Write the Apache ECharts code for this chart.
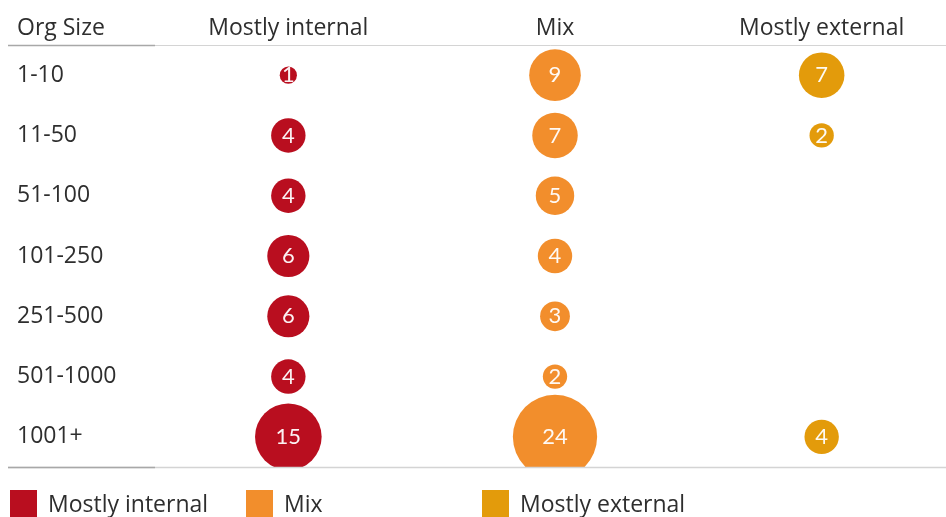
<!DOCTYPE html>
<html>
<head>
<meta charset="utf-8">
<script src="https://cdn.jsdelivr.net/npm/echarts@6/dist/echarts.min.js"></script>
<style>
  html, body { margin: 0; padding: 0; background: #fff; }
  #chart { width: 946px; height: 517px; }
</style>
</head>
<body>
<div id="chart"></div>
<script>
// Organisation size buckets (rows) and approach (columns)
const orgSizes = ['1-10', '11-50', '51-100', '101-250', '251-500', '501-1000', '1001+'];
const approaches = ['Mostly internal', 'Mix', 'Mostly external'];

// Respondent counts per org size; null = no respondents
const mostlyInternal = [1, 4, 4, 6, 6, 4, 15];
const mix = [9, 7, 5, 4, 3, 2, 24];
const mostlyExternal = [7, 2, null, null, null, null, 4];

const colors = {
  'Mostly internal': '#b90e1f',
  'Mix': '#f28e2c',
  'Mostly external': '#e39b0b'
};

const FONT = '"Open Sans", "Noto Sans", sans-serif';
const LABEL_FONT = 'Lato, "Open Sans", sans-serif';
const TEXT = '#2e2e2e';
const TEXT_SIZE = 23;

function toPoints(values, col) {
  const pts = [];
  values.forEach((v, row) => {
    if (v !== null) pts.push([col, row, v]);
  });
  return pts;
}

function bubbleSeries(name, values, col) {
  return {
    name: name,
    type: 'scatter',
    data: toPoints(values, col),
    // bubble area proportional to the count
    symbolSize: (val) => 17.2 * Math.sqrt(val[2]),
    itemStyle: { color: colors[name], opacity: 1 },
    label: {
      show: true,
      position: 'inside',
      formatter: (p) => String(p.value[2]),
      color: 'rgba(255,255,255,0.95)',
      fontFamily: LABEL_FONT,
      fontSize: 22
    },
    emphasis: { disabled: true },
    z: 2
  };
}

function legendFor(name, left) {
  return {
    data: [name],
    left: left,
    top: 490,
    padding: 0,
    icon: 'rect',
    itemWidth: 27,
    itemHeight: 30,
    selectedMode: false,
    textStyle: { color: TEXT, fontFamily: FONT, fontSize: TEXT_SIZE, padding: [4, 0, 0, 6] }
  };
}

const chart = echarts.init(document.getElementById('chart'), null, { renderer: 'canvas' });

chart.setOption({
  backgroundColor: '#ffffff',
  animation: false,
  grid: { left: 155, width: 800, top: 45, height: 422, outerBoundsMode: 'none', containLabel: false },
  xAxis: {
    type: 'category',
    position: 'top',
    data: approaches,
    axisLine: { show: true, lineStyle: { color: '#d4d4d4', width: 1 } },
    axisTick: { show: false },
    splitLine: { show: false },
    axisLabel: { color: TEXT, fontFamily: FONT, fontSize: TEXT_SIZE, margin: 5, verticalAlign: 'bottom' }
  },
  yAxis: {
    type: 'category',
    inverse: true,
    data: orgSizes,
    axisLine: { show: false },
    axisTick: { show: false },
    splitLine: { show: false },
    axisLabel: {
      color: TEXT, fontFamily: FONT, fontSize: TEXT_SIZE,
      align: 'left', margin: 138, padding: [4, 0, 0, 0]
    }
  },
  legend: [
    legendFor('Mostly internal', 10),
    legendFor('Mix', 246),
    legendFor('Mostly external', 482)
  ],
  series: [
    bubbleSeries('Mostly internal', mostlyInternal, 0),
    bubbleSeries('Mix', mix, 1),
    bubbleSeries('Mostly external', mostlyExternal, 2)
  ],
  graphic: [
    // column header for the row labels
    {
      type: 'text', x: 17, y: 40, z: 10,
      style: { text: 'Org Size', fill: TEXT, font: TEXT_SIZE + 'px ' + FONT, verticalAlign: 'bottom' }
    },
    // darker rule under the row-label column
    {
      type: 'line', z: 10,
      shape: { x1: 8, y1: 45.5, x2: 155, y2: 45.5 },
      style: { stroke: '#a8a8a8', lineWidth: 1.5 }
    },
    // table frame below the last row: bubbles are cut off here
    {
      type: 'rect', z: 50, silent: true,
      shape: { x: 0, y: 467, width: 946, height: 21 },
      style: { fill: '#ffffff' }
    },
    {
      type: 'line', z: 51,
      shape: { x1: 8, y1: 467.5, x2: 946, y2: 467.5 },
      style: { stroke: '#d4d4d4', lineWidth: 1.5 }
    },
    {
      type: 'line', z: 52,
      shape: { x1: 8, y1: 467.5, x2: 155, y2: 467.5 },
      style: { stroke: '#a8a8a8', lineWidth: 1.5 }
    }
  ]
});
</script>
</body>
</html>
